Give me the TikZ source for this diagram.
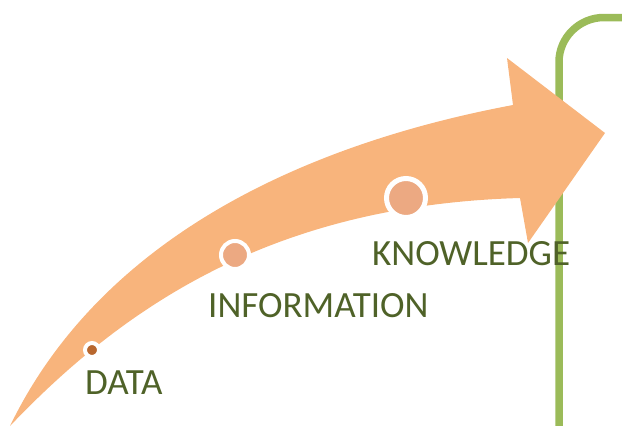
\documentclass[tikz,border=0pt]{standalone}
\usepackage{fontspec}
\setmainfont{Carlito}
\definecolor{arroworange}{HTML}{F8B47C}
\definecolor{dotfill}{HTML}{ECA982}
\definecolor{dotdark}{HTML}{B8672E}
\definecolor{vinegreen}{HTML}{9BBB59}
\definecolor{labelgreen}{HTML}{4F6228}
\tikzset{
  bigarrow/.style={fill=arroworange, draw=none},
  vine/.style={draw=vinegreen, line width=7.5pt, line cap=butt},
  milestone/.style={circle, draw=white, inner sep=0pt, fill=dotfill},
  steplabel/.style={anchor=base west, inner sep=0pt, text=labelgreen, font=\fontsize{37}{42}\selectfont}
}
\begin{document}
\begin{tikzpicture}[x=1pt,y=-1pt]
\useasboundingbox (0,0) rectangle (622,426);
\clip (0,0) rectangle (622,426);
% green vine line (behind arrow)
\coordinate (vbot) at (559,430);
\coordinate (vend) at (626,17.5);
\draw[vine] (vbot) -- (559,62) .. controls (559,37.4) and (579.4,17.5) .. (604,17.5) -- (vend);
% big curved arrow
\fill[bigarrow] (10,426) .. controls (100,240) and (300,145) .. (513,105)
  -- (507,58) -- (605,133) -- (528,243) -- (520,198)
  .. controls (280,205) and (130,300) .. (10,426) -- cycle;
% milestones
\node[milestone, fill=dotdark, line width=4pt, minimum size=14pt] (m1) at (92,350) {};
\node[milestone, line width=4pt, minimum size=28pt] (m2) at (235,255) {};
\node[milestone, line width=5pt, minimum size=39pt] (m3) at (406,198) {};
% labels
\node[steplabel] (l1) at (85,394) {DATA};
\node[steplabel] (l2) at (208,317) {INFORMATION};
\node[steplabel] (l3) at (372,265) {KNOWLEDGE};
\end{tikzpicture}
\end{document}
